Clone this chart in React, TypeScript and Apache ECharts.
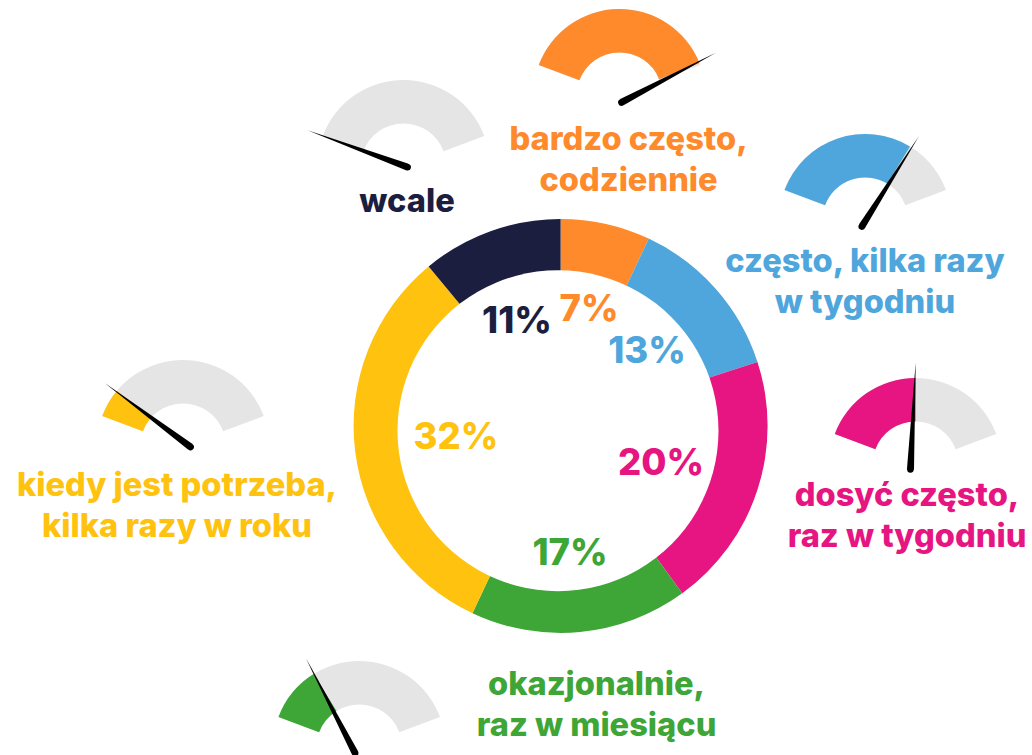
import React, { useEffect, useRef } from "react";
import * as echarts from "echarts";

const categories = [
  "bardzo często,\ncodziennie",
  "często, kilka razy\nw tygodniu",
  "dosyć często,\nraz w tygodniu",
  "okazjonalnie,\nraz w miesiącu",
  "kiedy jest potrzeba,\nkilka razy w roku",
  "wcale",
];
const shares = [7, 13, 20, 17, 32, 11];
const colors = ["#FE8A2B", "#4FA6DC", "#E61581", "#3EA537", "#FEC20F", "#1C1E3F"];
const arcValues = [99, 72.5, 50, 27, 14, 0];
const needleValues = [94.5, 73.1, 52, 30.4, 11.9, 0.2];
const gaugeCenters = [
  [619.5, 95.2],
  [865.2, 220.2],
  [915.5, 464.2],
  [359.2, 747.2],
  [183, 446.2],
  [403.5, 166.2],
];
const needleCenters = [
  [618.5, 104],
  [860, 229.3],
  [910.3, 472.7],
  [356.6, 755.9],
  [193.3, 449],
  [410.7, 168.3],
];
const captionCenters = [
  [628.5, 158],
  [865, 280],
  [907, 514],
  [596.5, 703],
  [177, 504],
  [407, 200],
];
const sharePositions = [
  [589, 308],
  [647, 350],
  [661, 462],
  [570, 552],
  [456, 436],
  [517, 320],
];

const FONT = "Inter";
const NEEDLE = "path://M5 0 L10 96 C10 99,8 100,5 100 C2 100,0 99,0 96 Z";

const gaugeBase = {
  type: "gauge",
  radius: 86.2,
  startAngle: 159.5,
  endAngle: 20.5,
  min: 0,
  max: 100,
  silent: true,
  axisTick: { show: false },
  splitLine: { show: false },
  axisLabel: { show: false },
  anchor: { show: false },
  title: { show: false },
  detail: { show: false },
};

function arcGauge(i: number) {
  return {
    ...gaugeBase,
    center: gaugeCenters[i],
    z: 5,
    axisLine: { show: true, lineStyle: { width: 43.4, color: [[1, "#E5E5E5"]] } },
    progress: { show: true, width: 43.4, itemStyle: { color: colors[i] } },
    pointer: { show: false },
    data: [{ value: arcValues[i] }],
  };
}

function needleGauge(i: number) {
  return {
    ...gaugeBase,
    startAngle: 160,
    endAngle: 20,
    center: needleCenters[i],
    z: 6,
    axisLine: { show: false },
    progress: { show: false },
    pointer: {
      show: true,
      icon: NEEDLE,
      length: 110,
      width: 7,
      offsetCenter: [0, 0],
      itemStyle: { color: "#000" },
    },
    data: [{ value: needleValues[i] }],
  };
}

export default function App() {
  const ref = useRef<HTMLDivElement>(null);
  useEffect(() => {
    const chart = echarts.init(ref.current!, null, { renderer: "svg" });
    const slices = categories.map((name, i) => ({ name, value: shares[i] }));
    chart.setOption({
      animation: false,
      backgroundColor: "#fff",
      series: [
        {
          type: "pie",
          center: [560.6, 425.9],
          radius: [130, 207],
          startAngle: 90,
          silent: true,
          z: 2,
          label: { show: false },
          labelLine: { show: false },
          data: slices.map((s, i) => ({ ...s, itemStyle: { color: colors[i] } })),
        },
        {
          type: "pie",
          center: [560.6, 425.9],
          radius: [130, 207],
          startAngle: 90,
          silent: true,
          z: 4,
          itemStyle: { color: "rgba(0,0,0,0)" },
          labelLine: { show: false },
          label: {
            show: true,
            position: "inside",
            formatter: "{c}%",
            fontFamily: FONT,
            fontWeight: 800,
            fontSize: 36.5,
          },
          labelLayout: (p: any) => ({
            x: sharePositions[p.dataIndex][0],
            y: sharePositions[p.dataIndex][1],
            align: "center",
            verticalAlign: "middle",
          }),
          data: slices.map((s, i) => ({ ...s, label: { color: colors[i] } })),
        },
        ...categories.flatMap((_, i) => [arcGauge(i), needleGauge(i)]),
      ],
      graphic: [
        {
          type: "circle",
          z: 3,
          silent: true,
          shape: { cx: 558, cy: 430.7, r: 160.5 },
          style: { fill: "#fff" },
        },
        ...categories.map((name, i) => ({
          type: "text",
          x: captionCenters[i][0],
          y: captionCenters[i][1],
          z: 10,
          style: {
            text: name,
            fill: colors[i],
            font: `800 32.6px ${FONT}`,
            lineHeight: 41,
            align: "center",
            verticalAlign: "middle",
          },
        })),
      ],
    });
    return () => chart.dispose();
  }, []);
  return (
    <div
      ref={ref}
      style={{ position: "absolute", left: 0, top: 0, width: 1032, height: 755, overflow: "hidden" }}
    />
  );
}
